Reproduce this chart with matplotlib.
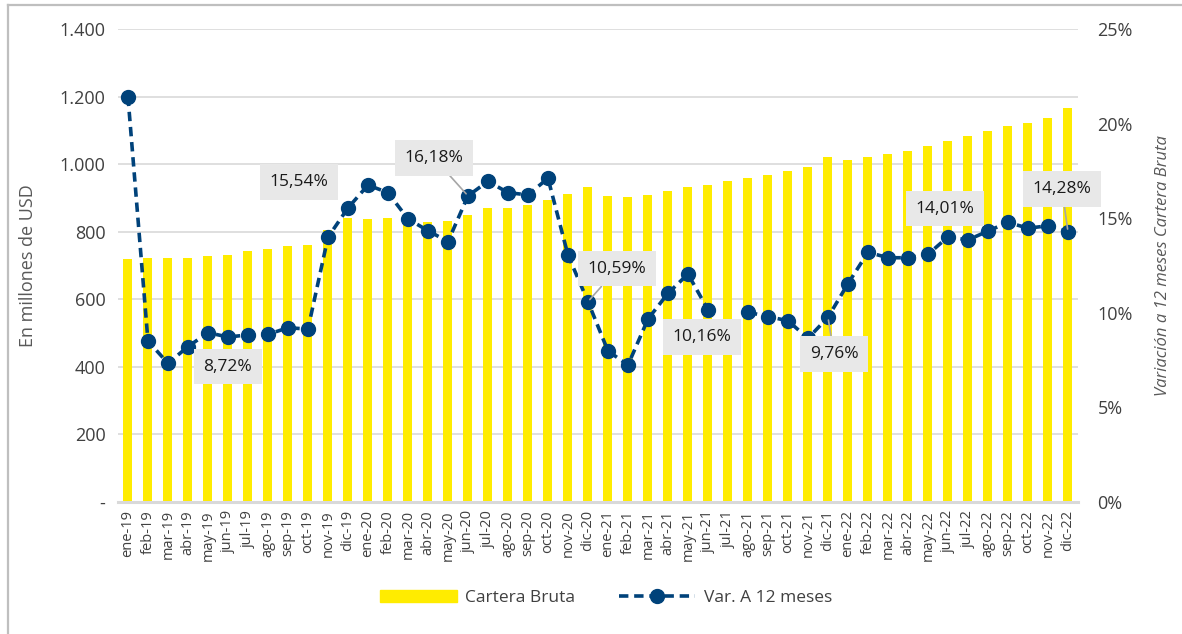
#!/usr/bin/env python
# -*- coding: utf-8 -*-

import numpy as np
import matplotlib
matplotlib.use('Agg')
import matplotlib.pyplot as plt
from matplotlib.lines import Line2D
from matplotlib.patches import Patch
from matplotlib.ticker import FuncFormatter

plt.rcParams['font.family'] = ['Open Sans', 'DejaVu Sans']

# Data
month_abbr = ['ene', 'feb', 'mar', 'abr', 'may', 'jun',
              'jul', 'ago', 'sep', 'oct', 'nov', 'dic']
years = ['19', '20', '21', '22']
months = ['{}-{}'.format(m, y) for y in years for m in month_abbr]

# Cartera bruta, millones de USD
cartera = [719, 721, 721, 723, 728, 731, 743, 749, 758, 761, 805, 841,
           838, 841, 838, 829, 832, 849, 870, 871, 879, 894, 911, 931,
           906, 902, 910, 920, 931, 938, 950, 959, 968, 980, 991, 1021,
           1012, 1021, 1030, 1039, 1055, 1068, 1083, 1098, 1112, 1122, 1136, 1167]

# Variacion a 12 meses (%), jul-21 not shown in the source chart
var_12m = [21.42, 8.51, 7.33, 8.21, 8.95, 8.72, 8.83, 8.86, 9.21, 9.14, 13.99, 15.54,
           16.75, 16.35, 14.96, 14.34, 13.76, 16.18, 16.95, 16.35, 16.23, 17.11, 13.05, 10.59,
           7.98, 7.24, 9.67, 11.03, 12.05, 10.16, np.nan, 10.03, 9.80, 9.58, 8.65, 9.76,
           11.54, 13.20, 12.91, 12.91, 13.09, 14.01, 13.85, 14.32, 14.78, 14.47, 14.60, 14.28]

# Labelled points: (month, text, box position in (x index, %), leader line)
labels = [('jun-19', '8,72%', (5.0, 7.14), False),
          ('dic-19', '15,54%', (8.55, 16.91), False),
          ('jun-20', '16,18%', (15.3, 18.18), True),
          ('dic-20', '10,59%', (24.45, 12.32), True),
          ('jun-21', '10,16%', (28.7, 8.72), False),
          ('dic-21', '9,76%', (35.3, 7.82), True),
          ('jun-22', '14,01%', (40.85, 15.49), False),
          ('dic-22', '14,28%', (46.7, 16.54), True)]


def pct_fmt(v, pos):
    return '{:d}%'.format(int(round(v)))


def usd_fmt(v, pos):
    # Excel style thousands with a dot and a dash for zero
    if v == 0:
        return '-'
    return '{:,.0f}'.format(v).replace(',', '.')


def plot_chart():
    yellow = '#FFEC00'
    navy = '#00427A'
    grey_txt = '#404040'

    fig = plt.figure(figsize=(11.82, 6.34), dpi=100)
    ax = fig.add_axes([0.0998, 0.2082, 0.8122, 0.7461])
    ax2 = ax.twinx()

    x = np.arange(len(months))
    ax.bar(x, cartera, width=0.45, color=yellow, zorder=2)
    ax.set_ylim(0, 1400)
    ax.set_yticks(np.arange(0, 1401, 200))
    ax.yaxis.set_major_formatter(FuncFormatter(usd_fmt))
    ax.set_xlim(-0.5, len(months) - 0.5)
    ax.set_xticks(x)
    ax.set_xticklabels(months, rotation=90, fontsize=10.5, color=grey_txt)
    ax.grid(axis='y', color='#D9D9D9', lw=1.2, zorder=0)
    ax.set_axisbelow(True)
    ax.tick_params(axis='y', length=0, pad=9, labelsize=13, labelcolor=grey_txt)
    ax.tick_params(axis='x', length=0, pad=6)
    for s in ['top', 'left', 'right']:
        ax.spines[s].set_visible(False)
    ax.spines['bottom'].set_color('#D9D9D9')
    ax.spines['bottom'].set_linewidth(2.2)
    ax.set_ylabel('En millones de USD', fontsize=13, color='#595959', labelpad=16)

    ax2.plot(x, var_12m, color=navy, lw=2.6, ls=(0, (2.6, 1.6)),
             marker='o', markersize=10, zorder=4)
    ax2.set_ylim(0, 25)
    ax2.set_yticks(np.arange(0, 26, 5))
    ax2.yaxis.set_major_formatter(FuncFormatter(pct_fmt))
    ax2.tick_params(axis='y', length=0, pad=14, labelsize=13, labelcolor=grey_txt)
    for s in ax2.spines.values():
        s.set_visible(False)
    ax2.set_ylabel('Variación a 12 meses Cartera Bruta', fontsize=12, color='#595959',
                   style='italic', labelpad=16)

    # Data labels
    for m, txt, pos, leader in labels:
        i = months.index(m)
        arrow = dict(arrowstyle='-', color='#A6A6A6', lw=1.2, shrinkA=0, shrinkB=2) if leader else None
        ax2.annotate(txt, xy=(i, var_12m[i]), xytext=pos, textcoords='data',
                     ha='center', va='center', fontsize=12.5, color='#1a1a1a',
                     bbox=dict(boxstyle='square,pad=0.55', fc='#E8E8E8', ec='none'),
                     arrowprops=arrow, zorder=10)

    # Legend
    handles = [Patch(color=yellow),
               Line2D([], [], color=navy, lw=2.6, ls=(0, (2.6, 1.6)), marker='o', markersize=10)]
    fig.legend(handles, ['Cartera Bruta', 'Var. A 12 meses'], loc='center',
               bbox_to_anchor=(0.5127, 0.057), ncol=2, frameon=False, fontsize=12.5,
               handlelength=4.4, columnspacing=2.5, handletextpad=0.5,
               labelcolor=grey_txt)

    # Chart area border (top and left edges are visible in the source)
    fig.add_artist(Line2D([0.0068, 1.0], [0.992, 0.992], color='#BFBFBF', lw=1.6,
                          transform=fig.transFigure))
    fig.add_artist(Line2D([0.0068, 0.0068], [0.0, 0.992], color='#BFBFBF', lw=1.6,
                          transform=fig.transFigure))

    return fig


def main():
    fig = plot_chart()
    fig.savefig('out.png', dpi=100)


if __name__ == "__main__":
    main()
